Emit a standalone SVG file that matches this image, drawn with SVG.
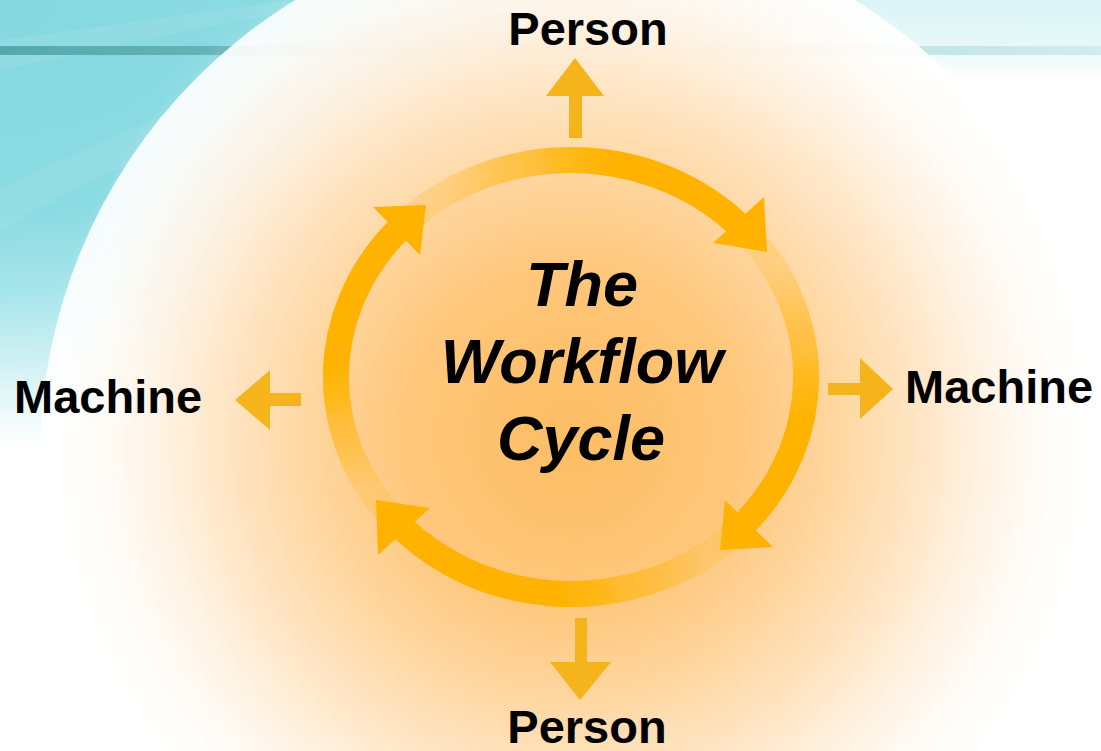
<svg xmlns="http://www.w3.org/2000/svg" width="1101" height="751" viewBox="0 0 1101 751">
<defs>
<style>
.lbl{font-family:"Liberation Sans",Arial,sans-serif;font-weight:bold;font-size:47px;fill:#000}
.ttl{font-family:"Liberation Sans",Arial,sans-serif;font-weight:bold;font-style:italic;font-size:63px;fill:#000;text-anchor:middle}
.blk{fill:#F6B41C}
.head{fill:#FFB300}
.arc{fill:none;stroke-width:26}
</style>
<radialGradient id="teal" gradientUnits="userSpaceOnUse" cx="0" cy="0" r="1" gradientTransform="scale(720,470)">
<stop offset="0" stop-color="#86D8E0"/>
<stop offset="0.45" stop-color="#8ADBE2"/>
<stop offset="0.62" stop-color="#A6E5EA"/>
<stop offset="0.8" stop-color="#D8F3F5"/>
<stop offset="0.95" stop-color="#FFFFFF"/>
</radialGradient>
<linearGradient id="tealTR" x1="0" y1="0" x2="0" y2="1">
<stop offset="0" stop-color="#D9F3F5"/>
<stop offset="0.6" stop-color="#E8F8F9"/>
<stop offset="1" stop-color="#FFFFFF"/>
</linearGradient>
<linearGradient id="band" gradientUnits="userSpaceOnUse" x1="0" y1="0" x2="1101" y2="0">
<stop offset="0" stop-color="#54A9AC"/>
<stop offset="0.2" stop-color="#66B3B6"/>
<stop offset="0.55" stop-color="#A9D8DB"/>
<stop offset="1" stop-color="#CFEDEF"/>
</linearGradient>
<radialGradient id="glow" gradientUnits="userSpaceOnUse" cx="572" cy="435" r="560">
<stop offset="0" stop-color="#FDBD63"/>
<stop offset="0.3" stop-color="#FEC77B"/>
<stop offset="0.48" stop-color="#FFD7A2"/>
<stop offset="0.65" stop-color="#FFE6C6" stop-opacity="0.9"/>
<stop offset="0.8" stop-color="#FFF3E4" stop-opacity="0.55"/>
<stop offset="0.95" stop-color="#FFFFFF" stop-opacity="0"/>
</radialGradient>
<linearGradient id="gTop" gradientUnits="userSpaceOnUse" x1="440" y1="197" x2="610" y2="160">
<stop offset="0" stop-color="#FFB300" stop-opacity="0"/>
<stop offset="1" stop-color="#FFB300" stop-opacity="1"/>
</linearGradient>
<linearGradient id="gRight" gradientUnits="userSpaceOnUse" x1="772" y1="265" x2="804" y2="420">
<stop offset="0" stop-color="#FFB300" stop-opacity="0"/>
<stop offset="1" stop-color="#FFB300" stop-opacity="1"/>
</linearGradient>
<linearGradient id="gBottom" gradientUnits="userSpaceOnUse" x1="706" y1="555" x2="555" y2="594">
<stop offset="0" stop-color="#FFB300" stop-opacity="0"/>
<stop offset="1" stop-color="#FFB300" stop-opacity="1"/>
</linearGradient>
<linearGradient id="gLeft" gradientUnits="userSpaceOnUse" x1="370" y1="489" x2="337" y2="365">
<stop offset="0" stop-color="#FFB300" stop-opacity="0"/>
<stop offset="1" stop-color="#FFB300" stop-opacity="1"/>
</linearGradient>
<filter id="soft" x="-5%" y="-5%" width="110%" height="110%">
<feGaussianBlur stdDeviation="0.6"/>
</filter>
</defs>

<g id="background">
<rect x="0" y="0" width="1101" height="751" fill="#FFFFFF"/>
<rect x="0" y="0" width="1101" height="751" fill="url(#teal)"/>
<rect x="600" y="0" width="501" height="80" fill="url(#tealTR)"/>
<path d="M0,40 C120,25 220,8 300,0 L360,0 C260,15 140,40 0,70 Z" fill="#FFFFFF" opacity="0.08"/>
<path d="M0,190 C80,150 170,110 260,80 L240,120 C150,150 70,190 0,230 Z" fill="#FFFFFF" opacity="0.08"/>
<rect x="0" y="46" width="1101" height="9" fill="url(#band)"/>
<circle cx="575" cy="456" r="535" fill="#FFFFFF" opacity="0.9"/>
<circle cx="572" cy="435" r="560" fill="url(#glow)"/>
</g>

<g id="cycle" filter="url(#soft)">
<ellipse cx="571" cy="377" rx="235" ry="217" fill="none" stroke="#FFBE3C" stroke-opacity="0.3" stroke-width="26"/>
<g id="arc-top">
<path class="arc" stroke="url(#gTop)" d="M439.6,197.1 A235,217 0 0 1 740,226.3"/>
<polygon class="head" points="764,197 767,252 713,243"/>
</g>
<g id="arc-right">
<path class="arc" stroke="url(#gRight)" d="M772.4,265.2 A235,217 0 0 1 742.9,525"/>
<polygon class="head" points="725,500 773,547 720,550"/>
</g>
<g id="arc-bottom">
<path class="arc" stroke="url(#gBottom)" d="M705.8,554.8 A235,217 0 0 1 402,527.7"/>
<polygon class="head" points="430,508 378,555 376,500"/>
</g>
<g id="arc-left">
<path class="arc" stroke="url(#gLeft)" d="M369.6,488.8 A235,217 0 0 1 399.1,229"/>
<polygon class="head" points="373,207 420,255 426,205"/>
</g>
</g>

<g id="center">
<text class="ttl" x="582" y="306">The</text>
<text class="ttl" x="582" y="383">Workflow</text>
<text class="ttl" x="581" y="460">Cycle</text>
</g>

<g id="connectors">
<polygon class="blk" points="569,138 569,96 546,96 575,58 604,96 582,96 582,138"/>
<polygon class="blk" points="575,618 587,618 587,662 611,662 580,700 550,662 575,662"/>
<polygon class="blk" points="301,393 301,406 270,406 270,430 235,400 270,370 270,393"/>
<polygon class="blk" points="828,383 860,383 860,358 893,389 860,419 860,395 828,395"/>
</g>

<g id="person-top"><text class="lbl" x="588" y="45" text-anchor="middle">Person</text></g>
<g id="person-bottom"><text class="lbl" x="587" y="743" text-anchor="middle">Person</text></g>
<g id="machine-left"><text class="lbl" x="14" y="413">Machine</text></g>
<g id="machine-right"><text class="lbl" x="905" y="403">Machine</text></g>
</svg>
